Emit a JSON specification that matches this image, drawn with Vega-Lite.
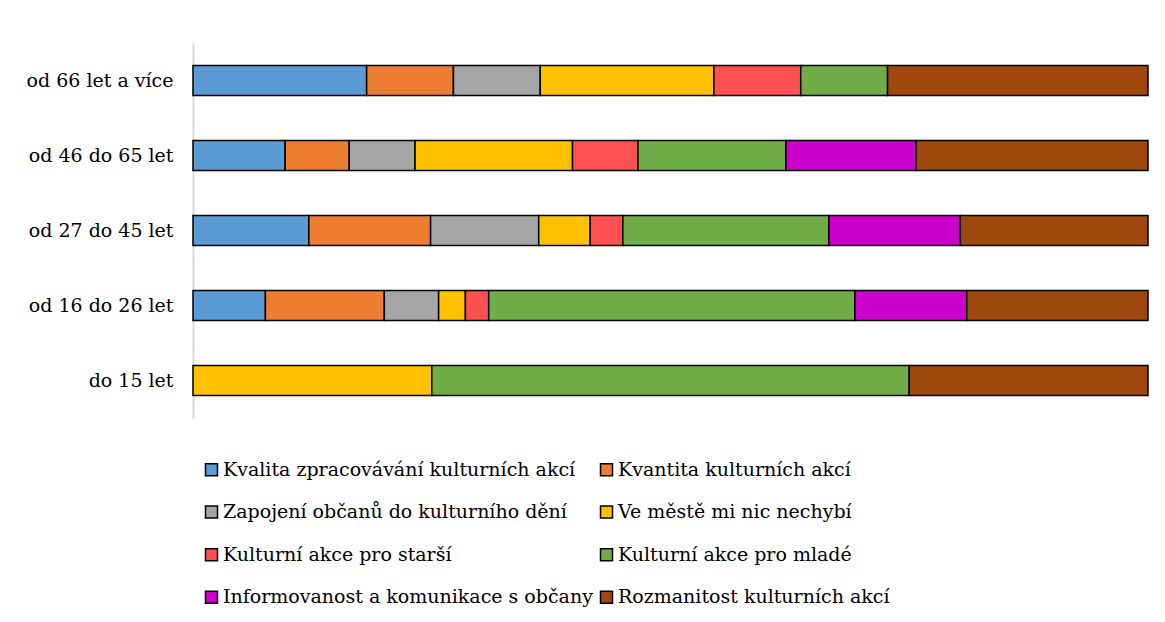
{
  "$schema": "https://vega.github.io/schema/vega-lite/v6.json",
  "autosize": "none",
  "width": 955,
  "height": 375,
  "padding": {"left": 193, "top": 43, "right": 17, "bottom": 204},
  "background": "white",
  "config": {"view": {"stroke": null}, "font": "DejaVu Serif"},
  "datasets": {
    "poradi": [
      {"kategorie": "Kvalita zpracovávání kulturních akcí", "poradi": 1},
      {"kategorie": "Kvantita kulturních akcí", "poradi": 2},
      {"kategorie": "Zapojení občanů do kulturního dění", "poradi": 3},
      {"kategorie": "Ve městě mi nic nechybí", "poradi": 4},
      {"kategorie": "Kulturní akce pro starší", "poradi": 5},
      {"kategorie": "Kulturní akce pro mladé", "poradi": 6},
      {"kategorie": "Informovanost a komunikace s občany", "poradi": 7},
      {"kategorie": "Rozmanitost kulturních akcí", "poradi": 8}
    ]
  },
  "data": {"values": [
    {"vek": "od 66 let a více", "kategorie": "Kvalita zpracovávání kulturních akcí", "podil": 18.18},
    {"vek": "od 66 let a více", "kategorie": "Kvantita kulturních akcí", "podil": 9.09},
    {"vek": "od 66 let a více", "kategorie": "Zapojení občanů do kulturního dění", "podil": 9.09},
    {"vek": "od 66 let a více", "kategorie": "Ve městě mi nic nechybí", "podil": 18.18},
    {"vek": "od 66 let a více", "kategorie": "Kulturní akce pro starší", "podil": 9.09},
    {"vek": "od 66 let a více", "kategorie": "Kulturní akce pro mladé", "podil": 9.09},
    {"vek": "od 66 let a více", "kategorie": "Rozmanitost kulturních akcí", "podil": 27.27},
    {"vek": "od 46 do 65 let", "kategorie": "Kvalita zpracovávání kulturních akcí", "podil": 9.65},
    {"vek": "od 46 do 65 let", "kategorie": "Kvantita kulturních akcí", "podil": 6.71},
    {"vek": "od 46 do 65 let", "kategorie": "Zapojení občanů do kulturního dění", "podil": 6.89},
    {"vek": "od 46 do 65 let", "kategorie": "Ve městě mi nic nechybí", "podil": 16.49},
    {"vek": "od 46 do 65 let", "kategorie": "Kulturní akce pro starší", "podil": 6.85},
    {"vek": "od 46 do 65 let", "kategorie": "Kulturní akce pro mladé", "podil": 15.49},
    {"vek": "od 46 do 65 let", "kategorie": "Informovanost a komunikace s občany", "podil": 13.63},
    {"vek": "od 46 do 65 let", "kategorie": "Rozmanitost kulturních akcí", "podil": 24.29},
    {"vek": "od 27 do 45 let", "kategorie": "Kvalita zpracovávání kulturních akcí", "podil": 12.13},
    {"vek": "od 27 do 45 let", "kategorie": "Kvantita kulturních akcí", "podil": 12.75},
    {"vek": "od 27 do 45 let", "kategorie": "Zapojení občanů do kulturního dění", "podil": 11.32},
    {"vek": "od 27 do 45 let", "kategorie": "Ve městě mi nic nechybí", "podil": 5.39},
    {"vek": "od 27 do 45 let", "kategorie": "Kulturní akce pro starší", "podil": 3.42},
    {"vek": "od 27 do 45 let", "kategorie": "Kulturní akce pro mladé", "podil": 21.57},
    {"vek": "od 27 do 45 let", "kategorie": "Informovanost a komunikace s občany", "podil": 13.77},
    {"vek": "od 27 do 45 let", "kategorie": "Rozmanitost kulturních akcí", "podil": 19.65},
    {"vek": "od 16 do 26 let", "kategorie": "Kvalita zpracovávání kulturních akcí", "podil": 7.58},
    {"vek": "od 16 do 26 let", "kategorie": "Kvantita kulturních akcí", "podil": 12.45},
    {"vek": "od 16 do 26 let", "kategorie": "Zapojení občanů do kulturního dění", "podil": 5.69},
    {"vek": "od 16 do 26 let", "kategorie": "Ve městě mi nic nechybí", "podil": 2.8},
    {"vek": "od 16 do 26 let", "kategorie": "Kulturní akce pro starší", "podil": 2.44},
    {"vek": "od 16 do 26 let", "kategorie": "Kulturní akce pro mladé", "podil": 38.34},
    {"vek": "od 16 do 26 let", "kategorie": "Informovanost a komunikace s občany", "podil": 11.71},
    {"vek": "od 16 do 26 let", "kategorie": "Rozmanitost kulturních akcí", "podil": 18.98},
    {"vek": "do 15 let", "kategorie": "Ve městě mi nic nechybí", "podil": 25},
    {"vek": "do 15 let", "kategorie": "Kulturní akce pro mladé", "podil": 50},
    {"vek": "do 15 let", "kategorie": "Rozmanitost kulturních akcí", "podil": 25}
  ]},
  "transform": [
    {"lookup": "kategorie", "from": {"data": {"name": "poradi"}, "key": "kategorie", "fields": ["poradi"]}}
  ],
  "mark": {"type": "bar", "stroke": "#000000", "strokeWidth": 1.5},
  "encoding": {
    "y": {
      "field": "vek", "type": "nominal",
      "sort": ["od 66 let a více", "od 46 do 65 let", "od 27 do 45 let", "od 16 do 26 let", "do 15 let"],
      "title": null,
      "scale": {"paddingInner": 0.6, "paddingOuter": 0.3},
      "axis": {"ticks": false, "labelPadding": 20, "labelFont": "DejaVu Serif", "labelFontSize": 19, "labelColor": "#000000", "domainColor": "#d9d9d9", "domainWidth": 2, "labelLimit": 300}
    },
    "x": {"field": "podil", "type": "quantitative", "stack": "normalize", "axis": null, "scale": {"nice": false}},
    "order": {"field": "poradi", "type": "quantitative", "sort": "ascending"},
    "color": {
      "field": "kategorie", "type": "nominal",
      "scale": {
        "domain": ["Kvalita zpracovávání kulturních akcí", "Kvantita kulturních akcí", "Zapojení občanů do kulturního dění", "Ve městě mi nic nechybí", "Kulturní akce pro starší", "Kulturní akce pro mladé", "Informovanost a komunikace s občany", "Rozmanitost kulturních akcí"],
        "range": ["#5B9BD5", "#ED7D31", "#A5A5A5", "#FFC000", "#FF5050", "#70AD47", "#CC00CC", "#9E480E"]
      },
      "legend": {
        "title": null, "orient": "none", "legendX": 9, "legendY": 417,
        "columns": 2, "direction": "horizontal",
        "symbolType": "square", "symbolSize": 144, "symbolStrokeColor": "#000000", "symbolStrokeWidth": 1.5, "symbolOpacity": 1,
        "labelFont": "DejaVu Serif", "labelFontSize": 19, "labelColor": "#000000", "labelOffset": 2, "labelLimit": 500,
        "rowPadding": 22.6, "columnPadding": 4, "padding": 0
      }
    }
  }
}
